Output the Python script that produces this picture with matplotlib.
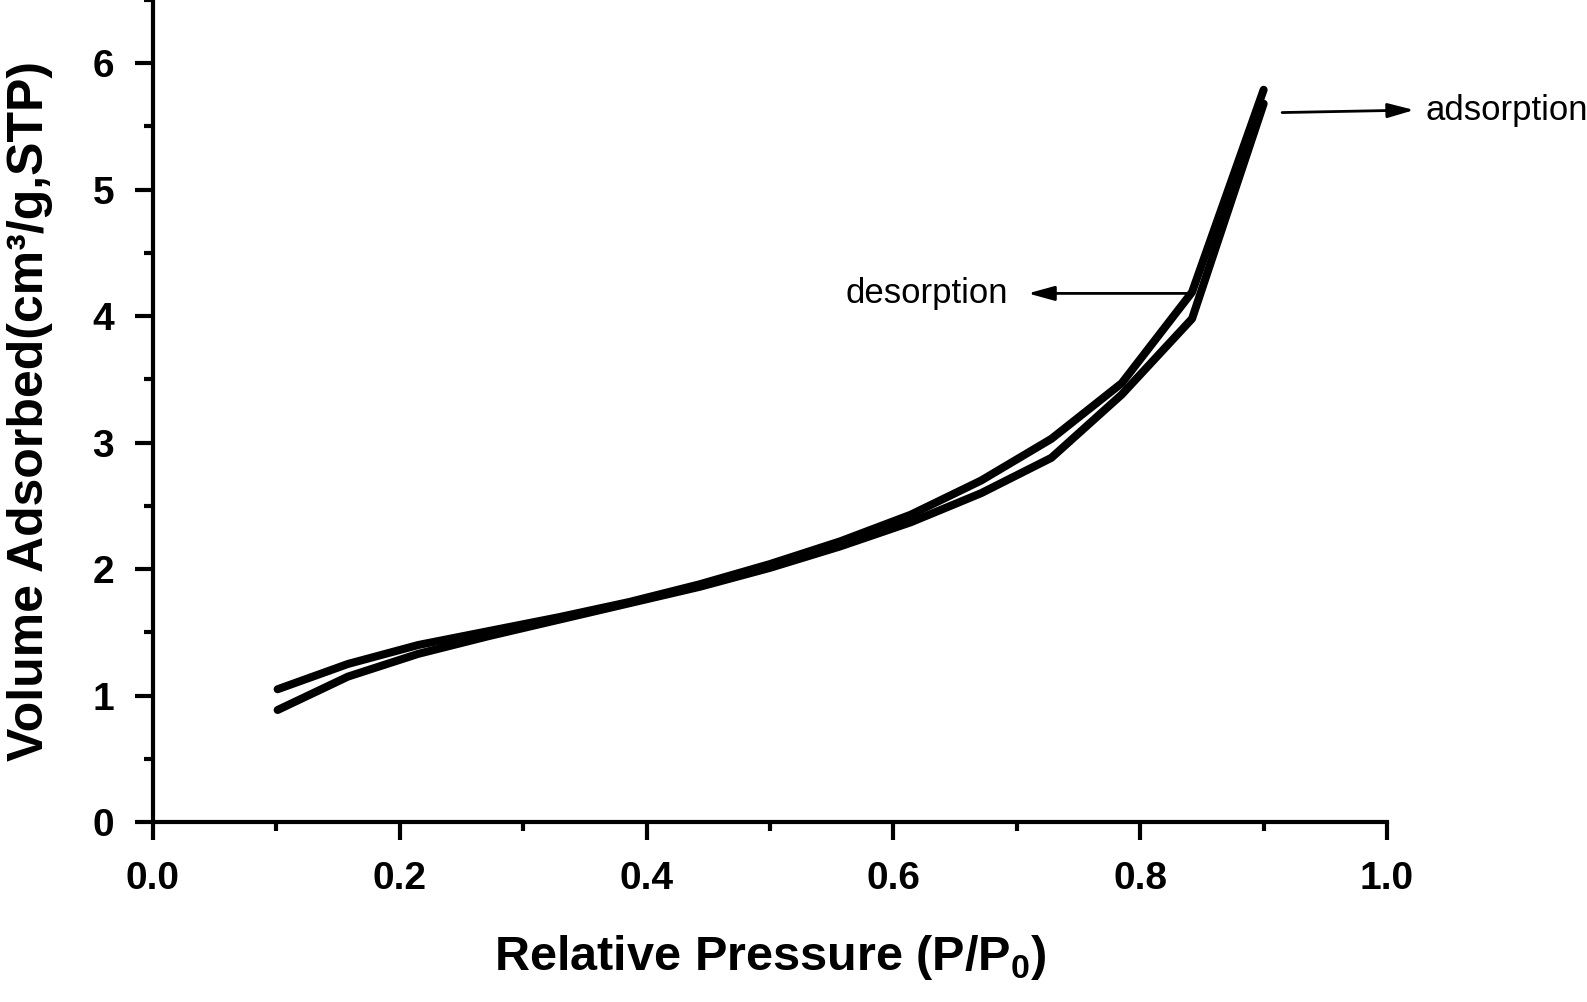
import matplotlib
matplotlib.use("Agg")
import matplotlib.pyplot as plt
from matplotlib.ticker import MultipleLocator

pressure = [0.101, 0.158, 0.215, 0.272, 0.329, 0.386, 0.443, 0.500,
            0.557, 0.614, 0.671, 0.728, 0.785, 0.842, 0.900]
adsorption = [0.886, 1.15, 1.33, 1.47, 1.60, 1.73, 1.86, 2.01,
              2.18, 2.37, 2.60, 2.88, 3.38, 3.98, 5.68]
desorption = [1.05, 1.25, 1.40, 1.51, 1.62, 1.74, 1.88, 2.04,
              2.22, 2.43, 2.70, 3.03, 3.47, 4.19, 5.79]
xticks = [0.0, 0.2, 0.4, 0.6, 0.8, 1.0]
yticks = [0, 1, 2, 3, 4, 5, 6]

plt.rcParams['font.family'] = ['Liberation Sans', 'DejaVu Sans']
plt.rcParams['mathtext.fontset'] = 'custom'
plt.rcParams['mathtext.rm'] = 'Liberation Sans'
plt.rcParams['mathtext.bf'] = 'Liberation Sans:bold'

fig = plt.figure(figsize=(15.87, 10.02), dpi=100)
ax = fig.add_axes([0.0964, 0.1796, 0.7776, 0.8204])

ax.plot(pressure, adsorption, color='black', lw=5.8, solid_capstyle='round', clip_on=False)
ax.plot(pressure, desorption, color='black', lw=5.8, solid_capstyle='round', clip_on=False)

ax.set_xlim(0, 1.0)
ax.set_ylim(0, 6.5)
ax.set_xticks(xticks)
ax.set_yticks(yticks)
ax.set_xticklabels(['%.1f' % v for v in xticks])
ax.set_yticklabels([str(v) for v in yticks])
ax.xaxis.set_minor_locator(MultipleLocator(0.1))
ax.yaxis.set_minor_locator(MultipleLocator(0.5))

for s in ['top', 'right']:
    ax.spines[s].set_visible(False)
for s in ['left', 'bottom']:
    ax.spines[s].set_linewidth(3)

ax.tick_params(which='major', direction='out', length=13, width=3,
               labelsize=28, pad=15)
ax.tick_params(which='minor', direction='out', length=6.5, width=3)
for lab in ax.get_xticklabels() + ax.get_yticklabels():
    lab.set_fontweight('bold')

ax.set_xlabel(r'Relative Pressure (P/P$_\mathbf{0}$)', fontsize=35,
              fontweight='bold', labelpad=26)
ax.set_ylabel('Volume Adsorbed(cm³/g,STP)', fontsize=36,
              fontweight='bold', labelpad=28)

arrow = dict(arrowstyle='-|>,head_length=0.8,head_width=0.22', color='black',
             lw=2, shrinkA=0, shrinkB=0, mutation_scale=20)
ax.annotate('', xy=(0.709, 4.18), xytext=(0.843, 4.18), arrowprops=arrow,
            annotation_clip=False)
ax.text(0.693, 4.18, 'desorption', fontsize=25, ha='right', va='center')
ax.annotate('', xy=(1.022, 5.63), xytext=(0.915, 5.61), arrowprops=arrow,
            annotation_clip=False)
ax.text(1.031, 5.63, 'adsorption', fontsize=25, ha='left', va='center',
        clip_on=False)

fig.savefig('out.png', dpi=100)
